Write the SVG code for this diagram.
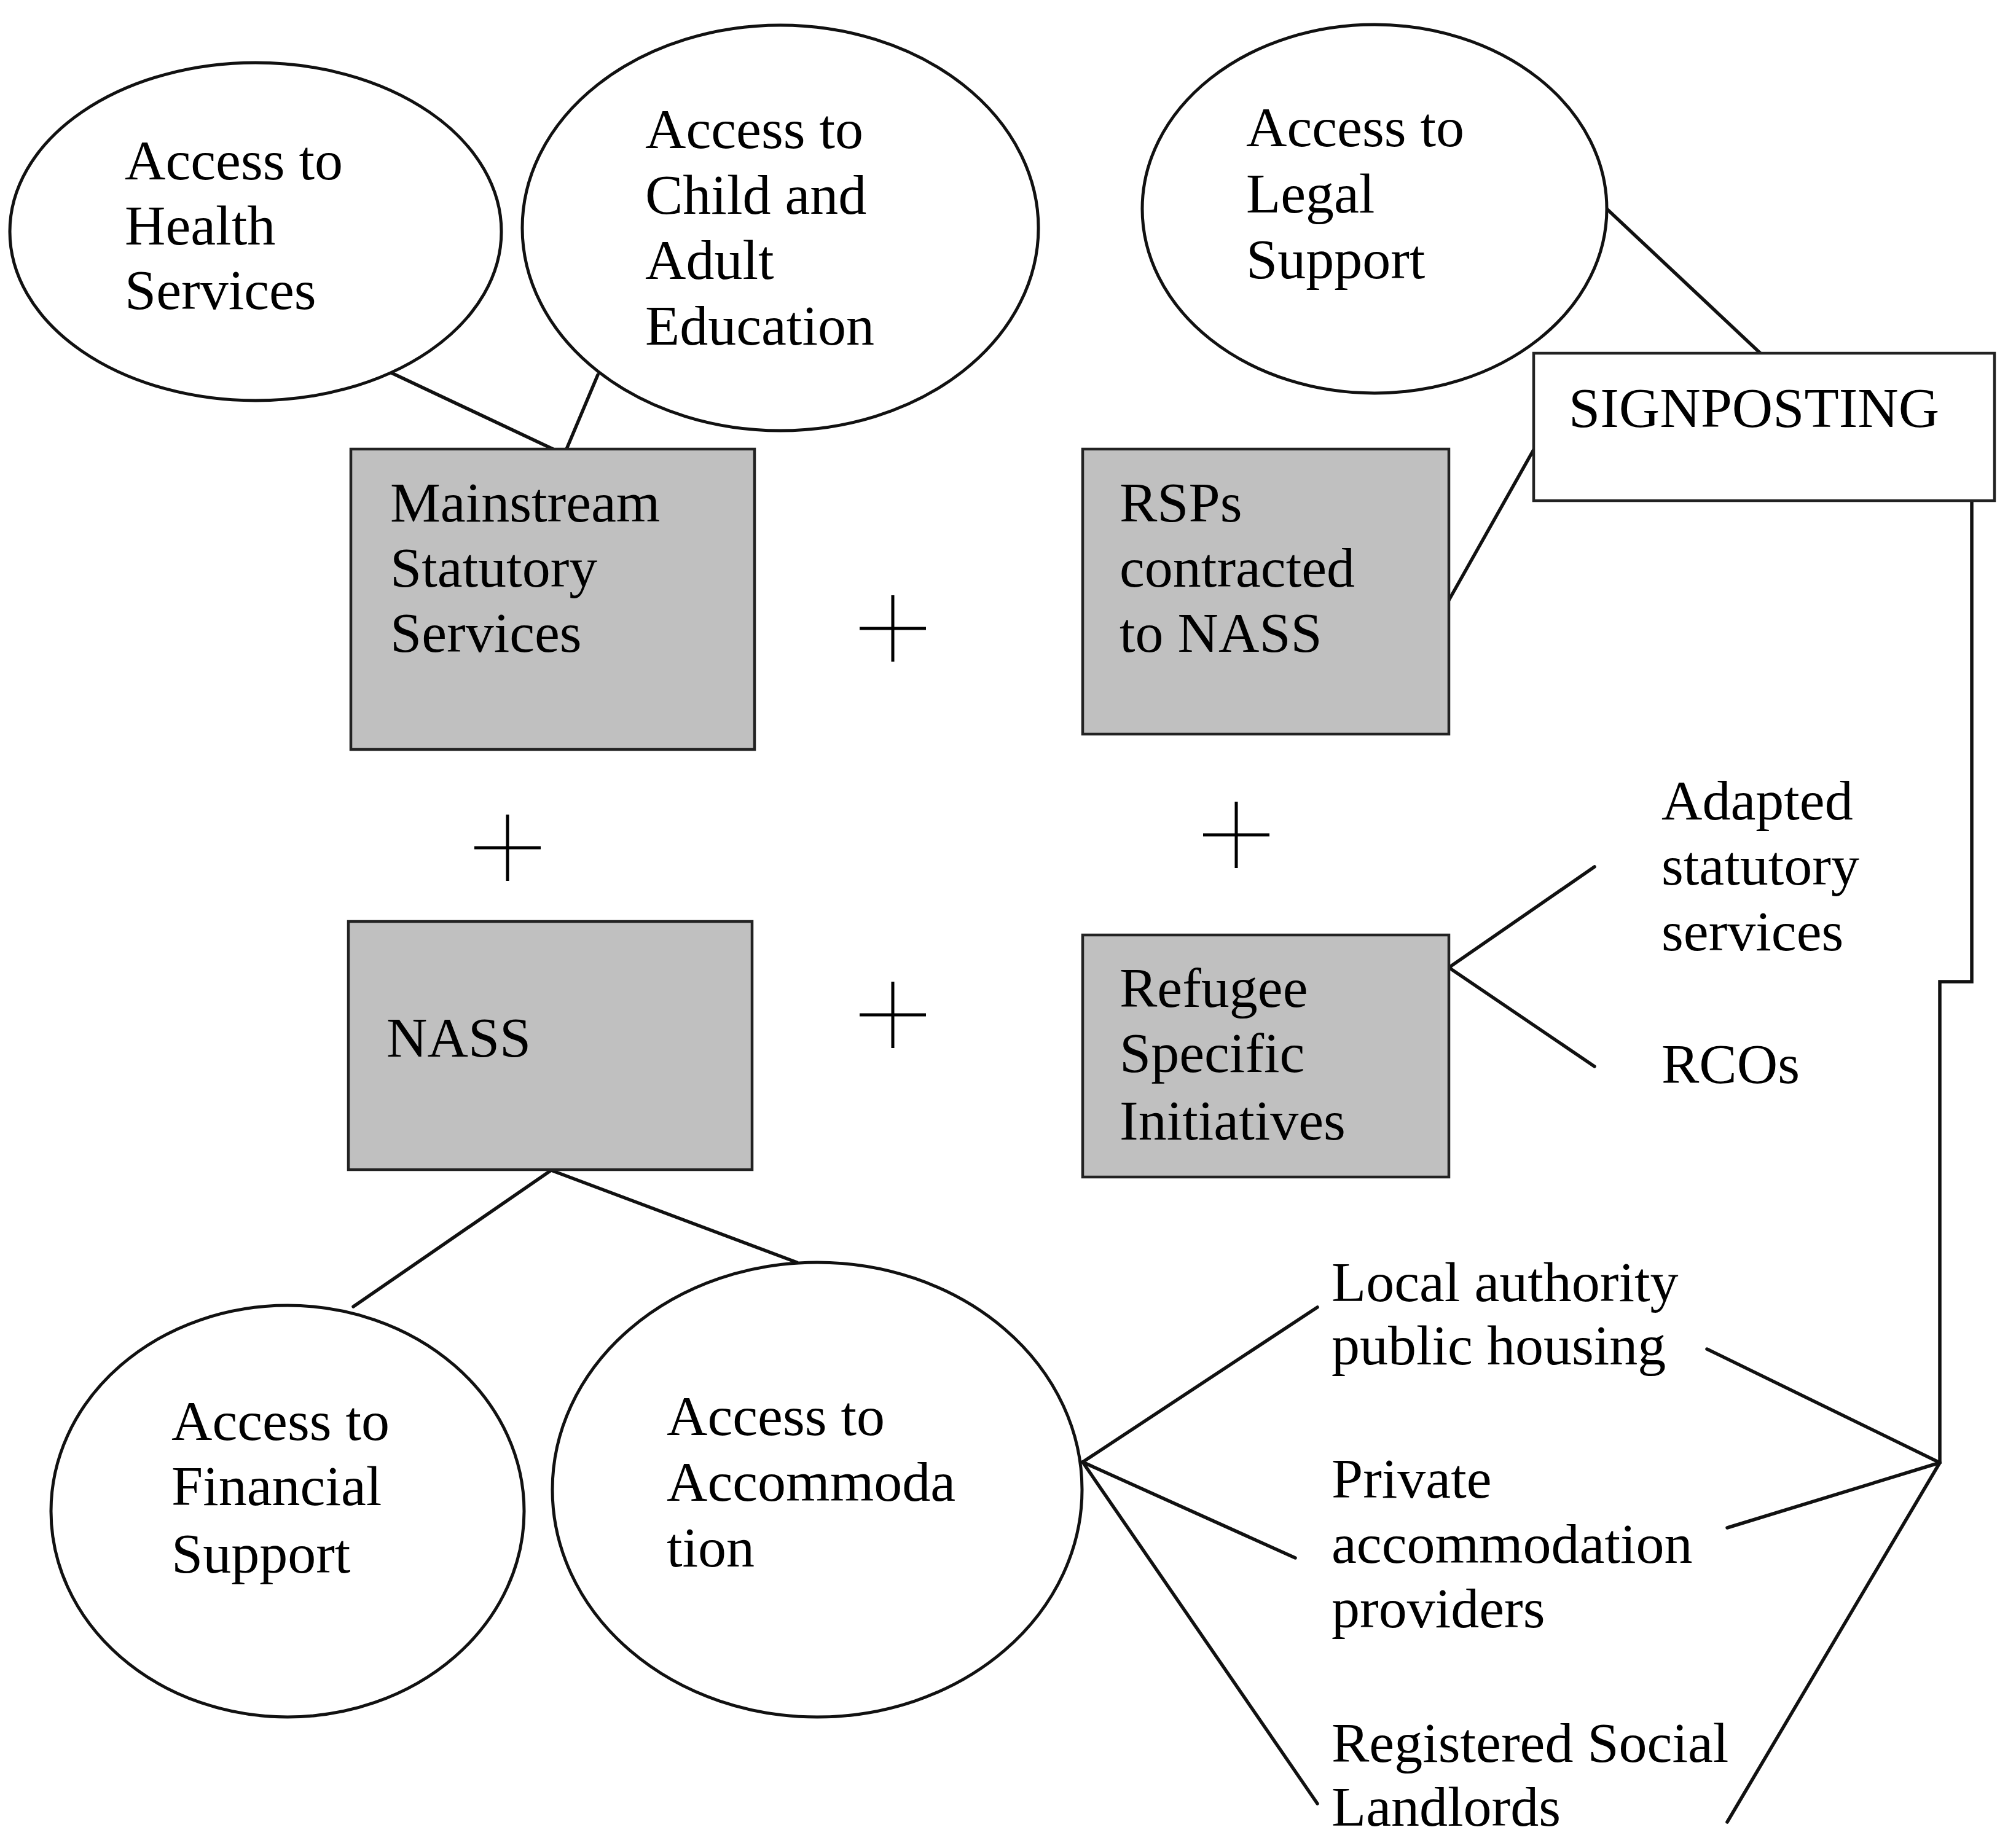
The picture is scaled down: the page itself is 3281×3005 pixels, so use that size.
<svg xmlns="http://www.w3.org/2000/svg" width="3281" height="3005" viewBox="0 0 3281 3005">
<style>
.t{font-family:"Liberation Serif","Times New Roman",serif;font-size:92px;fill:#000}
.el{fill:#fff;stroke:#111;stroke-width:5}
.box{fill:#c0c0c0;stroke:#222;stroke-width:4.5}
.wbox{fill:#fff;stroke:#222;stroke-width:4.5}
.ln{stroke:#111;stroke-width:5.5;fill:none;stroke-linecap:round;stroke-linejoin:miter}
.pl{stroke:#000;stroke-width:5;fill:none}
</style>
<rect width="3281" height="3005" fill="#fff"/>
<g id="connectors">
<line class="ln" x1="635" y1="606" x2="900" y2="731"/>
<line class="ln" x1="973" y1="610" x2="922" y2="731"/>
<line class="ln" x1="2615" y1="340" x2="2865" y2="575"/>
<line class="ln" x1="2496" y1="732" x2="2358" y2="977"/>
<polyline class="ln" points="3209,817 3209,1598 3157,1598 3157,2381"/>
<line class="ln" x1="2358" y1="1575" x2="2595" y2="1411"/>
<line class="ln" x1="2358" y1="1575" x2="2595" y2="1736"/>
<line class="ln" x1="897" y1="1905" x2="575" y2="2127"/>
<line class="ln" x1="897" y1="1905" x2="1297" y2="2055"/>
<line class="ln" x1="1762" y1="2380" x2="2144" y2="2128"/>
<line class="ln" x1="1762" y1="2380" x2="2108" y2="2536"/>
<line class="ln" x1="1762" y1="2380" x2="2144" y2="2936"/>
<line class="ln" x1="3157" y1="2381" x2="2778" y2="2196"/>
<line class="ln" x1="3157" y1="2381" x2="2811" y2="2487"/>
<line class="ln" x1="3157" y1="2381" x2="2811" y2="2966"/>
</g>
<g id="plus-signs">
<path class="pl" d="M1399,1023H1507M1453,969V1077"/>
<path class="pl" d="M772,1380H880M826,1326V1434"/>
<path class="pl" d="M1958,1359H2066M2012,1305V1413"/>
<path class="pl" d="M1399,1652H1507M1453,1598V1706"/>
</g>
<g id="health">
<ellipse class="el" cx="416" cy="377" rx="400" ry="275"/>
<text class="t" x="203"><tspan x="203" y="292">Access to</tspan><tspan x="203" y="398">Health</tspan><tspan x="203" y="503">Services</tspan></text>
</g>
<g id="education">
<ellipse class="el" cx="1270" cy="371" rx="420" ry="330"/>
<text class="t"><tspan x="1050" y="241">Access to</tspan><tspan x="1050" y="348">Child and</tspan><tspan x="1050" y="454">Adult</tspan><tspan x="1050" y="561">Education</tspan></text>
</g>
<g id="legal">
<ellipse class="el" cx="2237" cy="340" rx="378" ry="300"/>
<text class="t"><tspan x="2028" y="238">Access to</tspan><tspan x="2028" y="346">Legal</tspan><tspan x="2028" y="453">Support</tspan></text>
</g>
<g id="signposting">
<rect class="wbox" x="2496" y="575" width="750" height="240"/>
<text class="t" x="2553" y="695">SIGNPOSTING</text>
</g>
<g id="mainstream">
<rect class="box" x="571" y="731" width="657" height="489"/>
<text class="t"><tspan x="635" y="849">Mainstream</tspan><tspan x="635" y="955">Statutory</tspan><tspan x="635" y="1061">Services</tspan></text>
</g>
<g id="rsps">
<rect class="box" x="1762" y="731" width="596" height="464"/>
<text class="t"><tspan x="1822" y="849">RSPs</tspan><tspan x="1822" y="955">contracted</tspan><tspan x="1822" y="1061">to NASS</tspan></text>
</g>
<g id="nass">
<rect class="box" x="567" y="1500" width="657" height="404"/>
<text class="t" x="629" y="1720">NASS</text>
</g>
<g id="refugee">
<rect class="box" x="1762" y="1522" width="596" height="394"/>
<text class="t"><tspan x="1822" y="1639">Refugee</tspan><tspan x="1822" y="1745">Specific</tspan><tspan x="1822" y="1855">Initiatives</tspan></text>
</g>
<g id="adapted">
<text class="t"><tspan x="2704" y="1334">Adapted</tspan><tspan x="2704" y="1440">statutory</tspan><tspan x="2704" y="1547">services</tspan></text>
</g>
<g id="rcos">
<text class="t" x="2704" y="1763">RCOs</text>
</g>
<g id="financial">
<ellipse class="el" cx="468" cy="2460" rx="385" ry="335"/>
<text class="t"><tspan x="279" y="2344">Access to</tspan><tspan x="279" y="2450">Financial</tspan><tspan x="279" y="2560">Support</tspan></text>
</g>
<g id="accommodation">
<ellipse class="el" cx="1330" cy="2425" rx="431" ry="370"/>
<text class="t"><tspan x="1085" y="2336">Access to</tspan><tspan x="1085" y="2443">Accommoda</tspan><tspan x="1085" y="2550">tion</tspan></text>
</g>
<g id="local">
<text class="t"><tspan x="2167" y="2118">Local authority</tspan><tspan x="2167" y="2221">public housing</tspan></text>
</g>
<g id="private">
<text class="t"><tspan x="2167" y="2438">Private</tspan><tspan x="2167" y="2544">accommodation</tspan><tspan x="2167" y="2649">providers</tspan></text>
</g>
<g id="registered">
<text class="t"><tspan x="2167" y="2868">Registered Social</tspan><tspan x="2167" y="2972">Landlords</tspan></text>
</g>
</svg>
